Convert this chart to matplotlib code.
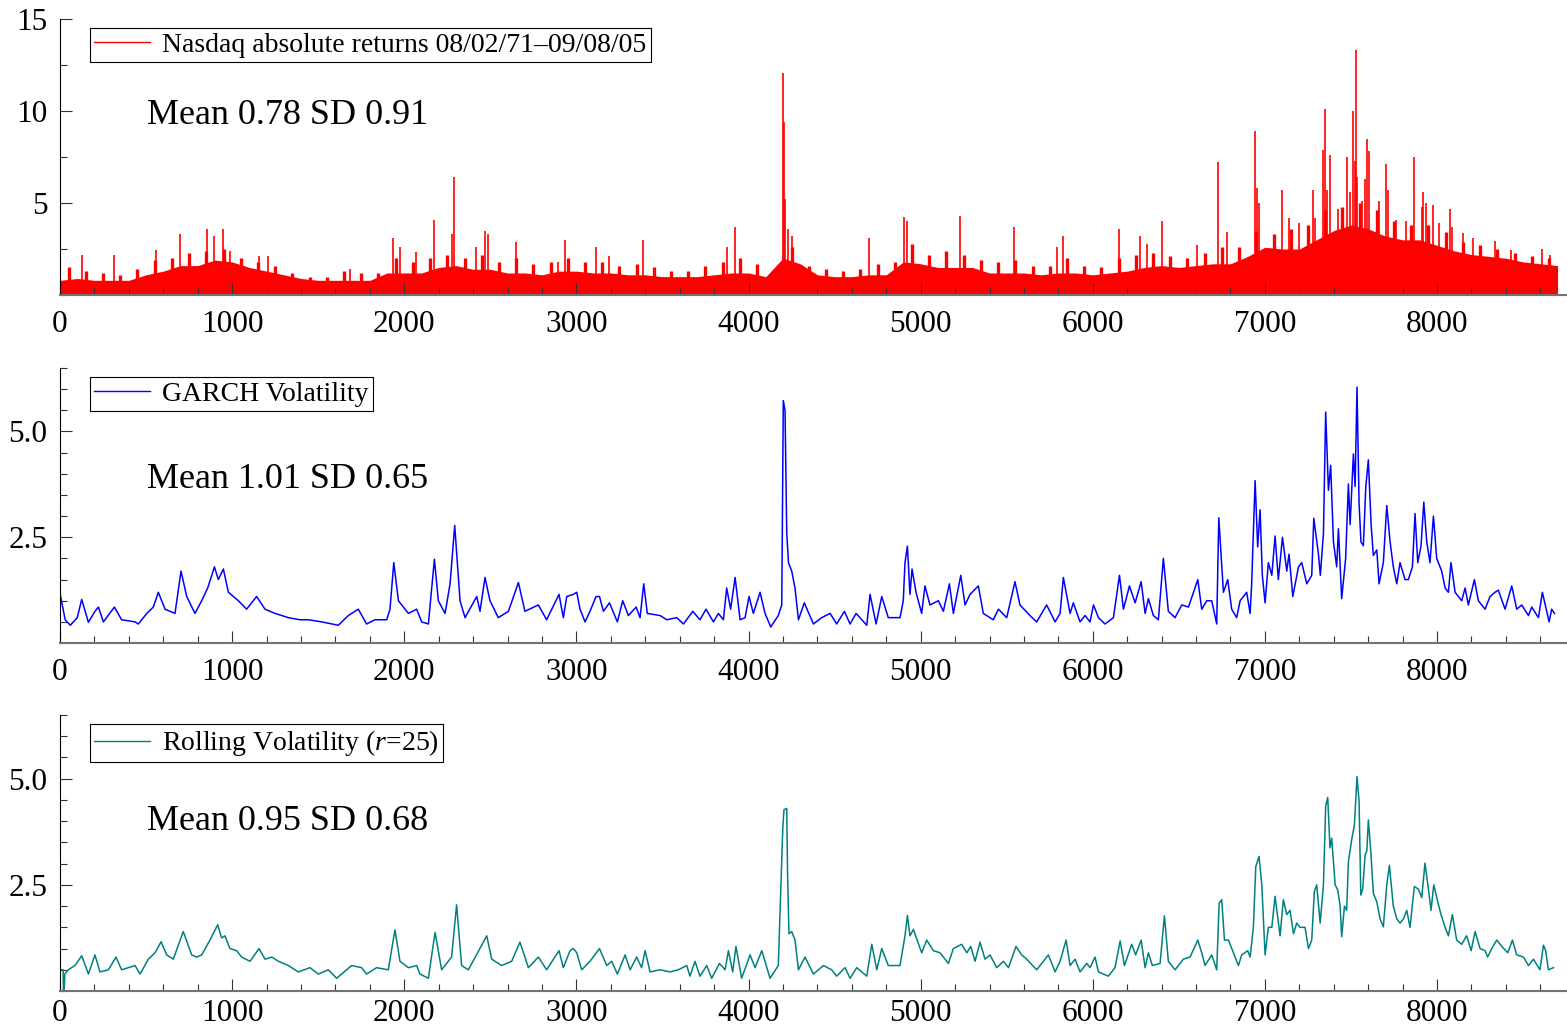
"""Nasdaq absolute returns vs GARCH and rolling volatility, three stacked panels."""
import numpy as np
import matplotlib.pyplot as plt
from matplotlib.lines import Line2D
from matplotlib.ticker import MultipleLocator, FormatStrFormatter

plt.rcParams['font.family'] = ['Liberation Serif', 'DejaVu Serif']
plt.rcParams['mathtext.fontset'] = 'custom'
plt.rcParams['mathtext.rm'] = 'Liberation Serif'
plt.rcParams['mathtext.it'] = 'Liberation Serif:italic'

# --- absolute returns: dense core level per 100-day bin, typical peak per bin, and big spikes
core_x = list(range(0, 8800, 100))
core_y = [0.8, 0.9, 0.8, 0.8, 0.8, 1.1, 1.3, 1.6, 1.6, 1.9,
          1.8, 1.5, 1.3, 1.1, 0.9, 0.8, 0.8, 0.8, 0.8, 1.2,
          1.2, 1.2, 1.5, 1.6, 1.4, 1.4, 1.2, 1.2, 1.1, 1.3,
          1.3, 1.2, 1.2, 1.1, 1.1, 1.0, 1.0, 1.0, 1.1, 1.2,
          1.2, 1.0, 2.0, 1.7, 1.1, 1.0, 1.0, 1.1, 1.1, 1.8,
          1.7, 1.5, 1.5, 1.5, 1.2, 1.2, 1.2, 1.1, 1.2, 1.2,
          1.1, 1.2, 1.3, 1.5, 1.6, 1.5, 1.6, 1.7, 1.7, 2.1,
          2.6, 2.5, 2.5, 3.0, 3.5, 3.8, 3.6, 3.2, 3.0, 3.0,
          2.7, 2.4, 2.2, 2.1, 2.0, 1.8, 1.7, 1.6]
peak_x = list(range(50, 8700, 100))
peak_y = [1.5, 1.3, 1.2, 1.1, 1.4, 1.9, 2.0, 2.3, 2.4, 2.5,
          2.0, 1.8, 1.6, 1.2, 1.0, 1.0, 1.3, 1.2, 1.2, 2.0,
          1.8, 2.0, 2.2, 2.0, 2.2, 1.8, 2.0, 1.7, 1.8, 2.0,
          1.8, 1.8, 1.6, 1.7, 1.5, 1.3, 1.3, 1.6, 1.8, 2.0,
          1.7, 1.3, 2.6, 1.6, 1.4, 1.3, 1.4, 1.7, 1.8, 2.8,
          2.2, 2.4, 2.2, 1.9, 1.8, 1.9, 1.6, 1.6, 2.0, 1.6,
          1.5, 2.0, 2.2, 2.3, 2.1, 2.0, 2.3, 2.6, 2.6, 3.5,
          3.3, 3.6, 3.8, 4.6, 4.8, 5.0, 4.6, 4.0, 3.8, 3.8,
          3.4, 2.9, 2.7, 2.5, 2.3, 2.1, 2.0]
spike_x = [126, 313, 559, 697, 852, 896, 946, 987, 1156, 1208,
           1682, 1934, 1973, 2068, 2172, 2276, 2289, 2416, 2468, 2486,
           2647, 2893, 2932, 3114, 3192, 3386, 3873, 3922, 4198, 4206,
           4212, 4227, 4254, 4700, 4903, 4919, 5229, 5542, 5790, 5825,
           6151, 6275, 6313, 6404, 6604, 6729, 6781, 6942, 6952, 6967,
           7099, 7141, 7200, 7277, 7291, 7339, 7349, 7358, 7380, 7422,
           7475, 7494, 7509, 7521, 7529, 7536, 7562, 7581, 7595, 7604,
           7660, 7703, 7715, 7759, 7819, 7866, 7910, 7920, 7935, 7974,
           8009, 8075, 8086, 8152, 8210, 8336, 8427, 8607, 8656]
spike_y = [2.2, 2.2, 2.45, 3.3, 3.6, 3.2, 3.6, 2.4, 2.1, 2.1,
           1.4, 3.1, 2.6, 2.35, 4.1, 3.3, 6.4, 2.6, 3.5, 3.3,
           2.9, 1.8, 3.0, 2.6, 2.1, 3.0, 2.6, 3.7, 12.05, 9.4,
           5.2, 3.6, 3.2, 3.1, 4.25, 4.0, 4.3, 3.7, 2.6, 3.2,
           3.6, 3.2, 2.8, 4.0, 2.7, 7.25, 3.4, 8.9, 5.8, 5.0,
           5.7, 4.2, 3.9, 5.7, 4.2, 7.9, 10.1, 5.7, 7.6, 4.7,
           7.5, 5.6, 10.0, 7.3, 13.3, 6.4, 5.1, 6.3, 8.5, 7.8,
           5.1, 7.1, 5.7, 4.1, 4.0, 7.5, 4.8, 5.6, 5.0, 4.9,
           3.9, 4.7, 3.7, 3.35, 3.1, 2.95, 2.45, 2.5, 2.2]

# --- GARCH volatility (turning points)
garch_x = [0, 30, 60, 100, 126, 165, 203, 223, 252, 316, 358, 436, 455, 504, 542,
           571, 610, 668, 703, 736, 784, 823, 858, 897, 920, 949, 978, 1036, 1084,
           1142, 1191, 1249, 1327, 1394, 1443, 1520, 1617, 1675, 1733, 1781, 1830,
           1898, 1917, 1939, 1966, 2024, 2072, 2101, 2140, 2175, 2198, 2237, 2266,
           2293, 2324, 2353, 2421, 2440, 2469, 2498, 2546, 2605, 2663, 2701, 2779,
           2827, 2899, 2924, 2944, 2982, 3002, 3021, 3050, 3079, 3114, 3134, 3157,
           3192, 3238, 3269, 3302, 3347, 3370, 3391, 3412, 3486, 3525, 3583, 3622,
           3676, 3718, 3753, 3796, 3825, 3854, 3873, 3896, 3922, 3951, 3980, 4003,
           4028, 4067, 4096, 4129, 4173, 4193, 4202, 4212, 4222, 4232, 4251, 4270,
           4290, 4324, 4377, 4425, 4474, 4512, 4557, 4590, 4625, 4687, 4706, 4741,
           4774, 4812, 4880, 4899, 4909, 4923, 4938, 4950, 4973, 5006, 5025, 5054,
           5103, 5132, 5167, 5190, 5233, 5258, 5287, 5335, 5364, 5422, 5452, 5500,
           5548, 5577, 5635, 5674, 5732, 5781, 5810, 5829, 5845, 5868, 5887, 5926,
           5955, 5984, 6004, 6033, 6071, 6120, 6155, 6178, 6213, 6246, 6281, 6304,
           6323, 6352, 6381, 6410, 6439, 6478, 6517, 6556, 6585, 6610, 6633, 6662,
           6691, 6720, 6732, 6759, 6784, 6807, 6836, 6856, 6894, 6914, 6923, 6943,
           6958, 6972, 6985, 7001, 7020, 7040, 7059, 7078, 7102, 7127, 7140, 7162,
           7195, 7214, 7243, 7272, 7284, 7311, 7322, 7340, 7345, 7353, 7369, 7382,
           7398, 7417, 7427, 7446, 7469, 7485, 7495, 7514, 7524, 7535, 7547, 7558,
           7572, 7586, 7601, 7617, 7630, 7650, 7663, 7688, 7708, 7727, 7746, 7766,
           7785, 7814, 7833, 7857, 7872, 7888, 7907, 7923, 7940, 7959, 7979, 7998,
           8027, 8047, 8066, 8081, 8105, 8143, 8163, 8182, 8217, 8240, 8279, 8308,
           8337, 8356, 8395, 8434, 8463, 8492, 8531, 8550, 8589, 8612, 8637, 8651,
           8666, 8682]
garch_y = [1.17, 0.55, 0.42, 0.6, 1.03, 0.49, 0.75, 0.85, 0.5, 0.85, 0.55, 0.5, 0.45, 0.7, 0.85,
           1.2, 0.8, 0.7, 1.7, 1.1, 0.7, 1.0, 1.3, 1.8, 1.5, 1.75, 1.2, 1.0, 0.8,
           1.1, 0.8, 0.7, 0.6, 0.55, 0.55, 0.5, 0.42, 0.65, 0.8, 0.45, 0.55,
           0.55, 0.8, 1.9, 1.0, 0.7, 0.8, 0.5, 0.45, 1.98, 1.0, 0.7, 1.4,
           2.78, 1.0, 0.6, 1.1, 0.75, 1.55, 1.0, 0.6, 0.75, 1.43, 0.75, 0.9,
           0.55, 1.15, 0.6, 1.1, 1.15, 1.2, 0.8, 0.5, 0.75, 1.1, 1.1, 0.75,
           0.95, 0.5, 1.0, 0.65, 0.85, 0.6, 1.4, 0.7, 0.65, 0.55, 0.6, 0.45,
           0.75, 0.55, 0.8, 0.5, 0.7, 0.55, 1.3, 0.8, 1.55, 0.55, 0.6, 1.1,
           0.7, 1.2, 0.7, 0.38, 0.65, 0.9, 5.73, 5.5, 2.6, 1.9, 1.7, 1.3,
           0.55, 0.95, 0.45, 0.6, 0.7, 0.45, 0.75, 0.45, 0.7, 0.42, 1.15, 0.45,
           1.1, 0.6, 0.6, 1.0, 1.9, 2.29, 1.15, 1.75, 1.2, 0.7, 1.35, 0.9,
           1.0, 0.75, 1.4, 0.7, 1.6, 0.9, 1.15, 1.35, 0.7, 0.55, 0.8, 0.6,
           1.45, 0.9, 0.65, 0.5, 0.9, 0.5, 0.7, 1.55, 1.2, 0.7, 0.95, 0.5,
           0.65, 0.5, 0.9, 0.6, 0.45, 0.6, 1.6, 0.8, 1.35, 0.95, 1.45, 0.7,
           1.05, 0.65, 0.55, 2.0, 0.75, 0.6, 0.9, 0.85, 1.2, 1.5, 0.8, 1.0,
           1.0, 0.45, 2.96, 1.2, 1.5, 0.8, 0.6, 1.0, 1.2, 0.7, 1.4, 3.84,
           2.27, 3.15, 1.6, 0.95, 1.9, 1.6, 2.53, 1.5, 2.5, 1.7, 2.1, 1.1,
           1.8, 1.9, 1.4, 1.6, 2.95, 2.1, 1.6, 2.59, 3.73, 5.46, 3.61, 4.2,
           2.4, 1.8, 2.7, 1.05, 2.0, 3.76, 2.8, 4.47, 3.7, 6.05, 3.3, 2.39,
           2.3, 3.69, 4.33, 2.8, 2.07, 2.2, 1.4, 1.9, 3.25, 2.4, 1.8, 1.4,
           1.9, 1.5, 1.5, 1.8, 3.06, 1.9, 2.3, 3.33, 2.4, 1.9, 3.0, 2.0,
           1.7, 1.3, 1.2, 1.9, 1.2, 1.0, 1.3, 0.9, 1.5, 1.0, 0.8, 1.1,
           1.2, 1.25, 0.8, 1.35, 0.8, 0.9, 0.65, 0.85, 0.6, 1.2, 0.75, 0.5,
           0.8, 0.7]

# --- rolling volatility, r = 25
roll_x = [0, 18, 20, 24, 28, 48, 87, 126, 165, 203, 232, 281, 325, 358, 436, 465,
          513, 552, 587, 620, 658, 716, 765, 794, 823, 871, 916, 939, 958, 987,
          1026, 1055, 1104, 1156, 1191, 1230, 1269, 1327, 1385, 1452, 1501, 1559,
          1607, 1694, 1752, 1781, 1839, 1907, 1946, 1975, 2024, 2072, 2091, 2140,
          2179, 2217, 2275, 2304, 2333, 2372, 2426, 2479, 2508, 2566, 2624, 2672,
          2721, 2779, 2827, 2899, 2924, 2963, 2982, 3002, 3031, 3079, 3134, 3176,
          3205, 3238, 3283, 3312, 3350, 3379, 3399, 3428, 3486, 3544, 3592, 3641,
          3660, 3689, 3718, 3757, 3786, 3831, 3864, 3883, 3908, 3927, 3960, 4009,
          4038, 4077, 4125, 4173, 4199, 4206, 4222, 4227, 4235, 4251, 4270, 4290,
          4328, 4377, 4435, 4483, 4512, 4561, 4590, 4629, 4687, 4716, 4745, 4774,
          4812, 4880, 4909, 4923, 4938, 4958, 5006, 5035, 5074, 5113, 5161, 5190,
          5238, 5268, 5291, 5316, 5345, 5374, 5403, 5442, 5481, 5510, 5554, 5587,
          5616, 5674, 5742, 5781, 5810, 5845, 5868, 5897, 5926, 5965, 5984, 6013,
          6033, 6091, 6129, 6159, 6184, 6226, 6249, 6281, 6304, 6323, 6346, 6391,
          6416, 6439, 6478, 6526, 6565, 6610, 6633, 6652, 6691, 6720, 6734, 6749,
          6765, 6788, 6817, 6846, 6865, 6900, 6914, 6933, 6947, 6966, 6982, 6991,
          7001, 7020, 7040, 7059, 7088, 7107, 7127, 7146, 7166, 7185, 7204, 7233,
          7253, 7272, 7287, 7301, 7321, 7340, 7353, 7365, 7378, 7388, 7408, 7423,
          7437, 7446, 7462, 7475, 7485, 7504, 7520, 7535, 7547, 7557, 7568, 7582,
          7592, 7601, 7615, 7630, 7650, 7669, 7688, 7708, 7723, 7746, 7766, 7785,
          7805, 7824, 7843, 7868, 7892, 7911, 7930, 7950, 7965, 7981, 8004, 8023,
          8047, 8066, 8089, 8114, 8143, 8172, 8198, 8221, 8250, 8279, 8294, 8318,
          8347, 8376, 8411, 8438, 8463, 8502, 8531, 8560, 8598, 8618, 8631, 8647,
          8676]
roll_y = [0.5, 0.5, 0.0, 0.0, 0.4, 0.5, 0.6, 0.83, 0.4, 0.85, 0.45, 0.5, 0.8, 0.5, 0.6, 0.4,
          0.75, 0.9, 1.16, 0.85, 0.75, 1.4, 0.85, 0.8, 0.85, 1.2, 1.56, 1.25, 1.3, 1.0,
          0.95, 0.8, 0.7, 1.0, 0.75, 0.8, 0.7, 0.6, 0.45, 0.55, 0.4, 0.5,
          0.3, 0.6, 0.55, 0.4, 0.55, 0.5, 1.44, 0.7, 0.55, 0.6, 0.4, 0.3,
          1.38, 0.5, 0.8, 2.03, 0.6, 0.5, 0.9, 1.3, 0.75, 0.6, 0.7, 1.15,
          0.55, 0.8, 0.5, 0.95, 0.55, 0.95, 1.0, 0.9, 0.5, 0.7, 1.0, 0.6,
          0.7, 0.4, 0.85, 0.5, 0.8, 0.55, 0.95, 0.45, 0.5, 0.45, 0.5, 0.6,
          0.35, 0.7, 0.35, 0.6, 0.3, 0.65, 0.5, 0.95, 0.45, 1.05, 0.3, 0.85,
          0.55, 0.95, 0.3, 0.6, 3.83, 4.27, 4.3, 2.7, 1.35, 1.4, 1.2, 0.5,
          0.8, 0.4, 0.6, 0.5, 0.35, 0.55, 0.3, 0.55, 0.35, 1.1, 0.5, 1.0,
          0.6, 0.6, 1.3, 1.78, 1.3, 1.45, 0.9, 1.2, 0.95, 0.9, 0.65, 1.0,
          1.1, 0.9, 1.05, 0.7, 1.15, 0.75, 0.85, 0.55, 0.7, 0.55, 1.05, 0.85,
          0.75, 0.5, 0.85, 0.45, 0.7, 1.2, 0.6, 0.75, 0.45, 0.65, 0.55, 0.8,
          0.45, 0.35, 0.55, 1.18, 0.6, 1.1, 0.85, 1.2, 0.55, 0.9, 0.6, 0.65,
          1.77, 0.7, 0.5, 0.75, 0.8, 1.2, 0.9, 0.6, 0.85, 0.5, 2.07, 2.15,
          1.2, 1.2, 0.9, 0.6, 0.85, 0.95, 0.8, 1.5, 2.93, 3.17, 2.5, 1.7,
          0.85, 1.5, 1.5, 2.23, 1.3, 2.15, 1.8, 1.9, 1.35, 1.6, 1.5, 1.5,
          1.0, 1.2, 2.34, 2.5, 1.6, 2.5, 4.35, 4.56, 3.37, 3.6, 2.5, 2.38,
          2.0, 1.28, 2.0, 1.9, 3.05, 3.56, 3.91, 5.05, 4.46, 2.26, 2.4, 3.2,
          3.3, 4.03, 3.3, 2.3, 2.1, 1.7, 1.51, 2.5, 2.96, 2.0, 1.7, 1.6,
          1.7, 1.9, 1.5, 2.46, 2.4, 2.2, 3.01, 2.4, 1.9, 2.5, 2.1, 1.8,
          1.5, 1.3, 1.8, 1.2, 1.1, 1.3, 0.95, 1.4, 1.0, 0.95, 0.8, 1.0,
          1.2, 1.05, 0.9, 1.2, 0.85, 0.8, 0.6, 0.75, 0.5, 1.08, 0.95, 0.5,
          0.55]

XMAX = 8755
LEFT, WIDTH = 0.0383, 0.9617


def style_axis(ax, ymax, ymajor, yminor, yfmt, xpad=11):
    ax.set_xlim(0, XMAX)
    ax.set_ylim(0, ymax)
    for side in ("top", "right"):
        ax.spines[side].set_visible(False)
    ax.spines["left"].set_linewidth(0.8)
    ax.spines["bottom"].set_color("0.45")
    ax.spines["bottom"].set_linewidth(1.5)
    ax.xaxis.set_major_locator(MultipleLocator(1000))
    ax.xaxis.set_minor_locator(MultipleLocator(200))
    ax.set_yticks(ymajor)
    ax.yaxis.set_minor_locator(MultipleLocator(yminor))
    ax.yaxis.set_major_formatter(FormatStrFormatter(yfmt))
    ax.tick_params(which="major", direction="in", length=8.5, width=0.8,
                   labelsize=22.5, color="0.2")
    ax.tick_params(which="minor", direction="in", length=5, width=0.8, color="0.2")
    ax.tick_params(axis="x", which="major", pad=xpad)
    ax.tick_params(axis="y", which="major", pad=9)


def add_legend(ax, color, label):
    h = Line2D([], [], color=color, lw=1.0)
    leg = ax.legend([h], [label], loc="upper left", bbox_to_anchor=(0.0199, 0.967),
                    borderaxespad=0, fontsize=20, handlelength=2.0,
                    handletextpad=0.45, borderpad=0.15, fancybox=False,
                    framealpha=1, edgecolor="black")
    leg.get_frame().set_linewidth(0.8)


fig = plt.figure(figsize=(15.67, 10.32), dpi=100)
ax1 = fig.add_axes([LEFT, 0.7141, WIDTH, 0.2675])
ax2 = fig.add_axes([LEFT, 0.3769, WIDTH, 0.2665])
ax3 = fig.add_axes([LEFT, 0.0397, WIDTH, 0.2675])

# top: absolute returns
ax1.fill_between(core_x, 0, core_y, color="red", lw=0)
ax1.vlines(peak_x, 0, peak_y, color="red", lw=2.4)
ax1.vlines(spike_x, 0, spike_y, color="red", lw=1.2)
style_axis(ax1, 15, [5, 10, 15], 2.5, "%g")
add_legend(ax1, "red", "Nasdaq absolute returns 08/02/71\u201309/08/05")
ax1.text(0.0577, 0.652, "Mean 0.78 SD 0.91", transform=ax1.transAxes,
         fontsize=26, va="center", ha="left")

# middle: GARCH volatility
ax2.plot(garch_x, garch_y, color="blue", lw=1.1)
style_axis(ax2, 6.5, [2.5, 5.0], 0.5, "%.1f")
add_legend(ax2, "blue", "GARCH Volatility")
ax2.text(0.0577, 0.596, "Mean 1.01 SD 0.65", transform=ax2.transAxes,
         fontsize=26, va="center", ha="left")

# bottom: rolling volatility (labels sit right at the figure edge)
ax3.plot(roll_x, roll_y, color="#008080", lw=1.1)
style_axis(ax3, 6.5, [2.5, 5.0], 0.5, "%.1f", xpad=6)
add_legend(ax3, "#008080", "Rolling Volatility ($r$=25)")
ax3.text(0.0577, 0.613, "Mean 0.95 SD 0.68", transform=ax3.transAxes,
         fontsize=26, va="center", ha="left")

fig.savefig("out.png", dpi=100)
